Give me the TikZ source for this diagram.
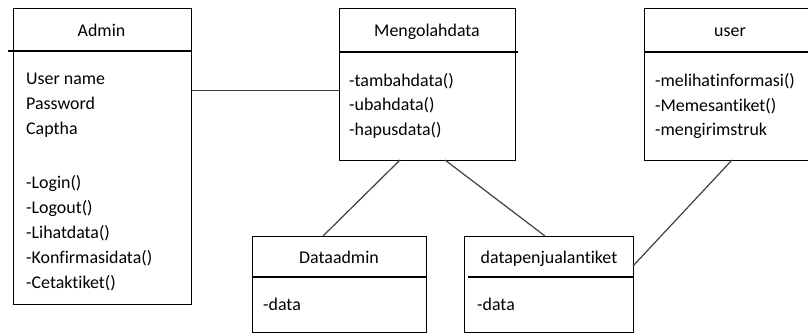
\documentclass[tikz,border=0pt]{standalone}
\usepackage{fontspec}
\setmainfont{Carlito}[Ligatures={NoCommon,NoRequired,NoContextual}]
\begin{document}
\begin{tikzpicture}[x=1pt,y=-1pt,
  classbox/.style={draw=black,line width=1.3pt,rectangle,inner sep=0pt,anchor=north west},
  divider/.style={draw=black,line width=1.3pt},
  link/.style={draw=black!75,line width=1.2pt},
  txt/.style={inner sep=0pt,anchor=base west,font=\fontsize{17.9}{20}\selectfont},
  ttl/.style={inner sep=0pt,anchor=base,font=\fontsize{17.9}{20}\selectfont}]
\useasboundingbox (0,0) rectangle (808,333);
\begin{scope}
\clip (0,0) rectangle (808,333);
% boxes
\node[classbox,minimum width=178pt,minimum height=296.5pt] (admin) at (12.5,7.5) {};
\node[classbox,minimum width=176pt,minimum height=152.5pt] (mengolah) at (339,7.5) {};
\node[classbox,minimum width=170pt,minimum height=152.5pt] (user) at (644,7.5) {};
\node[classbox,minimum width=174pt,minimum height=95.5pt] (dataadmin) at (252,236) {};
\node[classbox,minimum width=169pt,minimum height=95.5pt] (datapj) at (464,236) {};
% dividers
\draw[divider] (8,51) -- (190.5,51);
\draw[divider] (339,52) -- (518,52);
\draw[divider] (644,52) -- (814,52);
\draw[divider] (252,277) -- (426,277);
\draw[divider] (468,277) -- (633,277);
\end{scope}
% titles
\node[ttl] (tadmin) at (101.5,36.5) {Admin};
\node[ttl] (tmeng) at (427,36.5) {Mengolahdata};
\node[ttl] (tuser) at (730,36.5) {user};
\node[ttl] (tdadm) at (339,263) {Dataadmin};
\node[ttl] (tdpj) at (549,263) {datapenjualantiket};
% admin content
\node[txt] (a1) at (26,84) {User name};
\node[txt] (a2) at (26,109) {Password};
\node[txt] (a3) at (26,134) {Captha};
\node[txt] (a4) at (26,188.5) {-Login()};
\node[txt] (a5) at (26,213.5) {-Logout()};
\node[txt] (a6) at (26,238.5) {-Lihatdata()};
\node[txt] (a7) at (26,263.5) {-Konfirmasidata()};
\node[txt] (a8) at (26,288.5) {-Cetaktiket()};
% mengolah content
\node[txt] (m1) at (349,86) {-tambahdata()};
\node[txt] (m2) at (349,110.5) {-ubahdata()};
\node[txt] (m3) at (349,135) {-hapusdata()};
% user content
\node[txt] (u1) at (655,86.5) {-melihatinformasi()};
\node[txt] (u2) at (655,111) {-Memesantiket()};
\node[txt] (u3) at (655,135.5) {-mengirimstruk};
% data content
\node[txt] (d1) at (263,310) {-data};
\node[txt] (d2) at (477,310) {-data};
% connector ends
\coordinate (cA) at (192,90.5);
\coordinate (cM) at (mengolah.west |- cA);
\coordinate (cM1) at (400,160);
\coordinate (cD1) at (323,236);
\coordinate (cM2) at (445,160);
\coordinate (cD2) at (545,236);
\coordinate (cU) at (732,160);
\coordinate (cD3) at (633,266);
\draw[link] (cA) -- (cM);
\draw[link] (cM1) -- (cD1);
\draw[link] (cM2) -- (cD2);
\draw[link] (cU) -- (cD3);
\end{tikzpicture}
\end{document}
